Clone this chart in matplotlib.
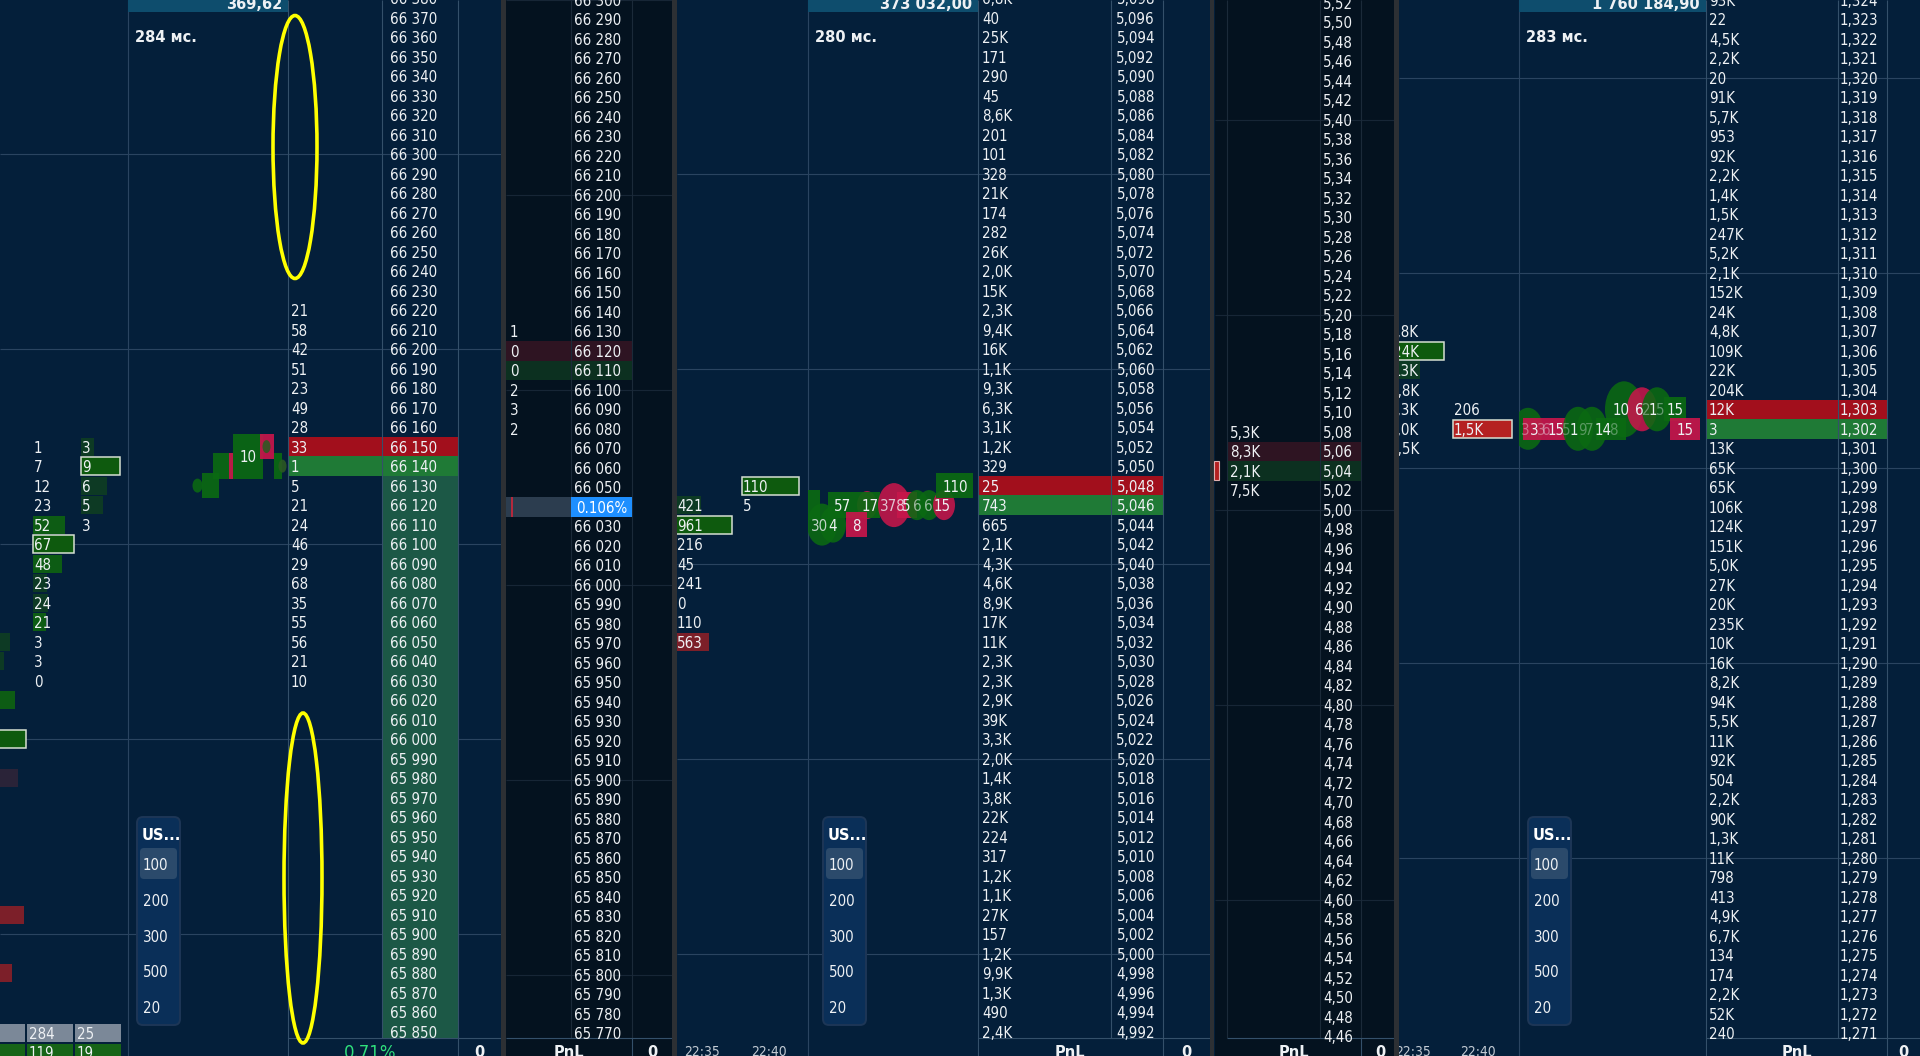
import os
import matplotlib
matplotlib.use("Agg")
import matplotlib.pyplot as plt
from matplotlib.patches import Rectangle, Ellipse, FancyBboxPatch
from matplotlib import font_manager
from matplotlib.font_manager import FontProperties

# ------------------------------------------------------------------ data
LADDER_ROWS = 54

# futures order book (left block)
book1_top, book1_tick = 66380, 10
book1_vol_prices = [66220, 66210, 66200, 66190, 66180, 66170, 66160, 66150, 66140,
                    66130, 66120, 66110, 66100, 66090, 66080, 66070, 66060, 66050,
                    66040, 66030]
book1_vol_values = [21, 58, 42, 51, 23, 49, 28, 33, 1, 5, 21, 24, 46, 29, 68, 35,
                    55, 56, 21, 10]
book1_ask, book1_bid = 66150, 66140
book1_change = "0.71%"
book1_header = "369,62"
book1_latency = "284 мс."

# cluster columns left of the first chart
fp1a_prices = [66150, 66140, 66130, 66120, 66110, 66100, 66090, 66080, 66070, 66060,
               66050, 66040, 66030]
fp1a_values = [1, 7, 12, 23, 52, 67, 48, 23, 24, 21, 3, 3, 0]
fp1a_style = ["", "", "", "", "g", "o", "g", "d", "d", "g", "", "", ""]
fp1b_prices = [66150, 66140, 66130, 66120, 66110]
fp1b_values = [3, 9, 6, 5, 3]
fp1b_style = ["d", "o", "d", "d", ""]
fp1c_prices = [66050, 66040, 66020, 66000, 65980, 65910, 65880]
fp1c_values = [24, 18, 29, 40, 32, 38, 26]
fp1c_style = ["d", "d", "g", "o", "p", "r", "r"]
fp1_total_row = ["", "284", "25"]
fp1_delta_row = ["", "119", "19"]

# trades on the first chart: offset from chart edge, price, size, side
tr1_x = [119.5, 94.5, 82.0, 69.5, 149.5, 138.5, 102.5, 138.5, 154.5]
tr1_price = [66145, 66140, 66130, 66130, 66140, 66150, 66140, 66150, 66140]
tr1_w = [30, 20, 17, 10, 8, 14, 4, 8, 8]
tr1_h = [45, 26, 25, 14, 26, 25, 26, 13, 13]
tr1_shape = ["s", "s", "s", "c", "s", "s", "s", "c", "c"]
tr1_side = ["b", "b", "b", "b", "b", "s", "s", "o", "o"]
tr1_lab_x, tr1_lab_price, tr1_lab = [120.5], [66145], ["10"]

# dark depth-of-market
dom2_top, dom2_tick = 66300, 10
dom2_prices = [66130, 66120, 66110, 66100, 66090, 66080]
dom2_values = [1, 0, 0, 2, 3, 2]
dom2_ask, dom2_bid = 66120, 66110
dom2_spread_price, dom2_spread = 66040, "0.106%"

# second instrument: order book (thousandths)
book4_top, book4_tick = 5098, 2
book4_volumes = ["6,8K", "40", "25K", "171", "290", "45", "8,6K", "201", "101", "328",
                 "21K", "174", "282", "26K", "2,0K", "15K", "2,3K", "9,4K", "16K", "1,1K",
                 "9,3K", "6,3K", "3,1K", "1,2K", "329", "25", "743", "665", "2,1K", "4,3K",
                 "4,6K", "8,9K", "17K", "11K", "2,3K", "2,3K", "2,9K", "39K", "3,3K", "2,0K",
                 "1,4K", "3,8K", "22K", "224", "317", "1,2K", "1,1K", "27K", "157", "1,2K",
                 "9,9K", "1,3K", "490", "2,4K"]
book4_ask, book4_bid = 5048, 5046
book4_header = "373 032,00"
book4_latency = "280 мс."

fp3a_prices = [5046, 5044, 5042, 5040, 5038, 5036, 5034, 5032]
fp3a_values = [421, 961, 216, 45, 241, 0, 110, 563]
fp3a_style = ["d", "o", "", "", "", "", "", "r"]
fp3b_prices = [5048, 5046]
fp3b_values = [110, 5]
fp3b_style = ["o", ""]

tr3_x = [6, 14, 25, 34.5, 59, 60.5, 48.5, 86, 99, 109, 121, 136, 146.5]
tr3_price = [5046, 5044, 5044, 5046, 5046, 5046, 5044, 5046, 5046, 5046, 5046, 5046, 5048]
tr3_w = [12, 30, 26, 29, 20, 23, 21, 32, 20, 22, 22, 22, 37]
tr3_h = [30, 42, 36, 26, 28, 26, 25, 44, 26, 30, 30, 30, 25]
tr3_shape = ["s", "c", "c", "s", "c", "s", "s", "c", "s", "c", "c", "c", "s"]
tr3_side = ["b", "b", "b", "b", "s", "b", "s", "s", "s", "b", "b", "s", "b"]
tr3_lab_x = [12, 25, 35, 62, 48.5, 85, 98, 109, 120, 134, 147]
tr3_lab_price = [5044, 5044, 5046, 5046, 5044, 5046, 5046, 5046, 5046, 5046, 5048]
tr3_lab = ["30", "4", "57", "17", "8", "378", "5", "6", "6", "15", "110"]
tr3_lab_alpha = [0.8, 1, 1, 1, 1, 0.8, 1, 0.6, 0.6, 1, 1]

# second instrument: dark DOM (hundredths)
dom5_top, dom5_tick = 552, 2
dom5_prices = [508, 506, 504, 502]
dom5_labels = ["5,3K", "8,3K", "2,1K", "7,5K"]
dom5_ask, dom5_bid = 506, 504

# third instrument: order book (thousandths)
book6_top, book6_tick = 1324, 1
book6_volumes = ["93K", "22", "4,5K", "2,2K", "20", "91K", "5,7K", "953", "92K", "2,2K",
                 "1,4K", "1,5K", "247K", "5,2K", "2,1K", "152K", "24K", "4,8K", "109K", "22K",
                 "204K", "12K", "3", "13K", "65K", "65K", "106K", "124K", "151K", "5,0K",
                 "27K", "20K", "235K", "10K", "16K", "8,2K", "94K", "5,5K", "11K", "92K",
                 "504", "2,2K", "90K", "1,3K", "11K", "798", "413", "4,9K", "6,7K", "134",
                 "174", "2,2K", "52K", "240"]
book6_ask, book6_bid = 1303, 1302
book6_header = "1 760 184,90"
book6_latency = "283 мс."

fp6a_prices = [1307, 1306, 1305, 1304, 1303, 1302, 1301]
fp6a_labels = ["1,8K", "24K", "13K", "2,8K", "1,3K", "5,0K", "2,5K"]
fp6a_values = [1.8, 24, 13, 2.8, 1.3, 5.0, 2.5]
fp6a_style = ["", "o", "d", "", "", "", ""]
fp6b_prices = [1303, 1302]
fp6b_labels = ["206", "1,5K"]
fp6b_values = [0.206, 1.5]
fp6b_style = ["", "R"]

tr6_x = [9, 25.5, 59, 73, 92, 105, 123, 138, 156, 166]
tr6_price = [1302, 1302, 1302, 1302, 1302, 1303, 1303, 1303, 1303, 1302]
tr6_w = [30, 43, 30, 30, 30, 38, 30, 30, 22, 30]
tr6_h = [42, 22, 44, 44, 22, 56, 44, 44, 24, 22]
tr6_shape = ["c", "s", "c", "c", "s", "c", "c", "c", "s", "s"]
tr6_side = ["b", "s", "b", "b", "b", "b", "s", "b", "b", "s"]
tr6_lab_x = [6, 15, 22, 27, 37, 47, 55, 63, 70, 84, 94, 102, 120, 127, 134, 141, 156, 166]
tr6_lab_price = [1302] * 11 + [1303, 1303, 1303, 1303, 1303, 1303, 1302]
tr6_lab = ["3", "3", "3", "6", "15", "5", "1", "9", "7", "14", "8",
           "10", "6", "2", "1", "5", "15", "15"]
tr6_lab_alpha = [0.4, 1, 0.4, 0.4, 1, 0.35, 1, 0.35, 0.35, 1, 0.35,
                 1, 1, 0.4, 1, 0.4, 1, 1]

volume_steps = ["100", "200", "300", "500", "20"]
time_ticks = ["22:35", "22:40"]

# ------------------------------------------------------------------ style
W, H = 1920, 1056
ROW_H = 19.5
BG = "#041f3a"
DOM_BG = "#04121f"
SEP = "#2d3034"
GRID = "#2a4460"
GRID_DARK = "#172636"
COL = "#34506a"
COL_DARK = "#1b2a39"
TXT = "#eef1f4"
ASK = "#a20f1c"
BID = "#1f7a36"
BUY = "#0b6a12"
SELL = "#c7164b"
HEADER = "#0e4d6d"
BOLD = "DejaVu Sans"


def _narrow_font():
    """Pick the narrowest sans face available for the ladder digits."""
    wanted = ["liberationsansnarrowregular", "liberationsansnarrow.ttf",
              "dejavusanscondensed.ttf", "robotocondensedregular",
              "notosanscondensed.ttf", "notosanscondensedregular",
              "opensanscondensedregular", "notosanssemicondensed.ttf",
              "notosanssemicondensedregular"]
    files = {}
    for f in font_manager.fontManager.ttflist:
        key = os.path.basename(f.fname).lower().replace("-", "").replace("_", "")
        files.setdefault(key, f.fname)
    for w in wanted:
        for key, path in files.items():
            if key.startswith(w.replace(".ttf", "")) and (key.endswith(".ttf") or key.endswith(".otf")):
                if w.endswith(".ttf") and key != w:
                    continue
                return FontProperties(fname=path)
    return FontProperties(family="Liberation Sans")


NARROW_FP = _narrow_font()

fig = plt.figure(figsize=(19.2, 10.56), dpi=100, facecolor=BG)
ax = fig.add_axes([0, 0, 1, 1])
ax.set_xlim(0, W)
ax.set_ylim(H, 0)
ax.axis("off")

# size the ladder font so that a price like "66 370" is ~47 px wide
_renderer = fig.canvas.get_renderer()
_probe = ax.text(0, 0, "66 370", fontproperties=NARROW_FP, fontsize=10)
_w10 = _probe.get_window_extent(_renderer).width
_probe.remove()
FS = max(10.0, min(12.0, 10 * 47.0 / _w10))


def ladder_y(top, tick, y0):
    return lambda p: y0 + (top - p) / tick * ROW_H


y1 = ladder_y(book1_top, book1_tick, -1.9)
y2 = ladder_y(dom2_top, dom2_tick, -0.2)
y4 = ladder_y(book4_top, book4_tick, -1.9)
y5 = ladder_y(dom5_top, dom5_tick, 2.8)
y6 = ladder_y(book6_top, book6_tick, -0.2)


def box(x0, y0, w, h, fc, ec="none", lw=0, z=2, alpha=1.0, clip=None):
    r = Rectangle((x0, y0), w, h, facecolor=fc, edgecolor=ec, linewidth=lw,
                  zorder=z, alpha=alpha)
    ax.add_patch(r)
    if clip is not None:
        r.set_clip_path(clip)
    return r


def row_box(x0, x1, y, fc, z=2):
    return box(x0, y - ROW_H / 2, x1 - x0, ROW_H, fc, z=z)


def put(x, y, s, size=None, ha="left", color=TXT, alpha=1.0, clip=None, z=8):
    t = ax.text(x, y, s, fontproperties=NARROW_FP, fontsize=size or FS, ha=ha,
                va="center_baseline", color=color, alpha=alpha, zorder=z)
    if clip is not None:
        t.set_clip_path(clip)
        t.set_clip_on(True)
    return t


def put_bold(x, y, s, size=10.5, ha="left", color=TXT, weight="bold", z=10):
    return ax.text(x, y, s, family=BOLD, fontsize=size, ha=ha, va="center_baseline",
                   color=color, fontweight=weight, zorder=z)


def vline(x, y0, y1_, color=COL, lw=0.8, z=3):
    ax.plot([x, x], [y0, y1_], color=color, lw=lw, zorder=z, solid_capstyle="butt")


def hline(y, x0, x1, color=GRID, lw=0.8, z=1):
    ax.plot([x0, x1], [y, y], color=color, lw=lw, zorder=z, solid_capstyle="butt")


def ladder_levels(top, tick):
    return [top - i * tick for i in range(LADDER_ROWS)]


fmt_space = lambda p: f"{p // 1000} {p % 1000:03d}"
fmt_milli = lambda p: f"{p // 1000},{p % 1000:03d}"
fmt_centi = lambda p: f"{p // 100},{p % 100:02d}"

# ------------------------------------------------------------------ panel backgrounds
box(0, 0, W, H, BG, z=0)
box(506, 0, 166, H, DOM_BG, z=0.5)
box(1215, 0, 179, H, DOM_BG, z=0.5)

# grid rows at round prices
for p in ladder_levels(book1_top, book1_tick):
    if p % 100 == 0:
        hline(y1(p), 0, 501)
for p in ladder_levels(dom2_top, dom2_tick):
    if p % 100 == 0:
        hline(y2(p), 506, 672, GRID_DARK)
for p in ladder_levels(book4_top, book4_tick):
    if p % 20 == 0:
        hline(y4(p), 677, 1210)
for p in ladder_levels(dom5_top, dom5_tick):
    if p % 20 == 0:
        hline(y5(p), 1215, 1394, GRID_DARK)
for p in ladder_levels(book6_top, book6_tick):
    if p % 10 == 0:
        hline(y6(p), 1399, 1920)

# ------------------------------------------------------------------ block 1: cluster + chart + book
vline(128, 0, H, GRID, 0.8)
STYLE_FC = {"g": "#0d5c14", "o": "#0e5a0e", "d": "#0d3a24", "p": "#2a2338",
            "r": "#7c1f29", "R": "#b52121"}


def cluster(prices, values, styles, yfun, x0, width, vmax, labels=None, clip=None,
            show_text=True, text_right=None):
    for i, (p, v, s) in enumerate(zip(prices, values, styles)):
        yc = yfun(p)
        if s:
            w = v / vmax * width
            edge = "#d6dfd2" if s in ("o", "R") else "none"
            box(x0, yc - 9, w, 18, STYLE_FC[s], ec=edge, lw=1.1 if edge != "none" else 0,
                z=4, clip=clip)
        if show_text:
            lab = labels[i] if labels else str(v)
            if text_right is None:
                put(x0 + 1, yc, lab, clip=clip)
            else:
                put(text_right, yc, lab, ha="right", clip=clip)


cluster(fp1a_prices, fp1a_values, fp1a_style, y1, 33, 41, max(fp1a_values))
cluster(fp1b_prices, fp1b_values, fp1b_style, y1, 81, 39, max(fp1b_values))
cluster(fp1c_prices, fp1c_values, fp1c_style, y1, -14, 40, max(fp1c_values),
        show_text=False)

# totals table under the clusters
for j, (xa, xb) in enumerate([(-10, 25), (27, 73), (75, 121)]):
    box(xa, 1024, xb - xa, 18, "#7b8898", z=5)
    box(xa, 1044, xb - xa, 14, "#176417", z=5)
    if fp1_total_row[j]:
        put(xa + 2, 1033, fp1_total_row[j], z=9)
        put(xa + 2, 1052, fp1_delta_row[j], z=9)


def trades(xs, prices, ws, hs, shapes, sides, yfun, x0, clip=None):
    colors = {"b": BUY, "s": SELL, "o": "#2c5a22"}
    for x, p, w, h, sh, sd in zip(xs, prices, ws, hs, shapes, sides):
        cx, cy = x0 + x, yfun(p)
        if sh == "s":
            art = box(cx - w / 2, cy - h / 2, w, h, colors[sd], z=5, alpha=0.92)
        else:
            art = Ellipse((cx, cy), w, h, facecolor=colors[sd], edgecolor="none",
                          alpha=0.88, zorder=5)
            ax.add_patch(art)
        if clip is not None:
            art.set_clip_path(clip)


chart1_clip = Rectangle((128, 12), 160, 1040, transform=ax.transData)
trades(tr1_x, tr1_price, tr1_w, tr1_h, tr1_shape, tr1_side, y1, 128, chart1_clip)
for x, p, s in zip(tr1_lab_x, tr1_lab_price, tr1_lab):
    put(128 + x, y1(p), s, ha="center")

# book 1
row_box(288, 458, y1(book1_ask), ASK)
row_box(288, 458, y1(book1_bid), BID)
box(382, y1(book1_bid - book1_tick) - ROW_H / 2, 76,
    1038 - (y1(book1_bid - book1_tick) - ROW_H / 2), "#1c5846", z=2)
for x in (288, 382, 458):
    vline(x, 0, H, COL)
for p in ladder_levels(book1_top, book1_tick):
    put(437, y1(p), fmt_space(p), ha="right")
for p, v in zip(book1_vol_prices, book1_vol_values):
    put(291, y1(p), str(v))
hline(1038, 288, 501, COL, 0.8, z=6)
box(288.5, 1038.5, 212, 18, BG, z=5.5)
vline(458, 1038, H, COL, z=6)
put_bold(370, 1051, book1_change, size=12, ha="center", color="#2fe07c", weight="normal")
put_bold(479, 1051, "0", ha="center")

# ------------------------------------------------------------------ block 2: dark DOM
for x in (571, 632):
    vline(x, 0, H, COL_DARK)
row_box(506, 632, y2(dom2_ask), "#2e1422")
row_box(506, 632, y2(dom2_bid), "#0c3020")
for p in ladder_levels(dom2_top, dom2_tick):
    if p == dom2_spread_price:
        continue
    put(621, y2(p), fmt_space(p), ha="right")
for p, v in zip(dom2_prices, dom2_values):
    put(510, y2(p), str(v))
ys = y2(dom2_spread_price)
row_box(506, 571, ys, "#2c3d4f", z=3)
row_box(571, 632, ys, "#1e8fff", z=3)
vline(512, ys - ROW_H / 2, ys + ROW_H / 2, "#d0253a", 1.2, z=4)
put(601.5, ys, dom2_spread, ha="center", color="white")
box(506, 1038, 166, 20, DOM_BG, z=5.5)
hline(1038, 506, 672, COL, 0.8, z=6)
vline(632, 1038, H, COL, z=6)
put_bold(569, 1051, "PnL", ha="center")
put_bold(652, 1051, "0", ha="center")

# ------------------------------------------------------------------ block 3: cluster + chart + book
vline(808, 0, H, GRID, 0.8)
cluster(fp3a_prices, fp3a_values, fp3a_style, y4, 676, 56, max(fp3a_values))
cluster(fp3b_prices, fp3b_values, fp3b_style, y4, 742, 57, max(fp3b_values))
chart3_clip = Rectangle((808, 12), 170, 1040, transform=ax.transData)
trades(tr3_x, tr3_price, tr3_w, tr3_h, tr3_shape, tr3_side, y4, 808, chart3_clip)
for x, p, s, a in zip(tr3_lab_x, tr3_lab_price, tr3_lab, tr3_lab_alpha):
    put(808 + x, y4(p), s, ha="center", alpha=a)
put(684, 1051, time_ticks[0], size=FS * 0.92, color="#c3cbd4")
put(751, 1051, time_ticks[1], size=FS * 0.92, color="#c3cbd4")

row_box(978, 1163, y4(book4_ask), ASK)
row_box(978, 1163, y4(book4_bid), BID)
for x in (978, 1111, 1163):
    vline(x, 0, H, COL)
for p, v in zip(ladder_levels(book4_top, book4_tick), book4_volumes):
    put(982, y4(p), v)
    put(1155, y4(p), fmt_milli(p), ha="right")
box(978.5, 1038, 231, 20, BG, z=5.5)
hline(1038, 978, 1210, COL, 0.8, z=6)
vline(1163, 1038, H, COL, z=6)
put_bold(1070, 1051, "PnL", ha="center")
put_bold(1186, 1051, "0", ha="center")

# ------------------------------------------------------------------ block 4: dark DOM
for x in (1227, 1320, 1361):
    vline(x, 0, H, COL_DARK)
row_box(1227, 1361, y5(dom5_ask), "#2e1422")
row_box(1227, 1361, y5(dom5_bid), "#0c3020")
for p in ladder_levels(dom5_top, dom5_tick):
    put(1353, y5(p), fmt_centi(p), ha="right")
for p, s in zip(dom5_prices, dom5_labels):
    put(1230, y5(p), s)
box(1214, y5(dom5_bid) - 9.5, 5, 19, "#b52121", ec="#e0b0b0", lw=0.8, z=13)
box(1215, 1038, 179, 20, DOM_BG, z=5.5)
hline(1038, 1227, 1394, COL, 0.8, z=6)
vline(1361, 1038, H, COL, z=6)
put_bold(1294, 1051, "PnL", ha="center")
put_bold(1380, 1051, "0", ha="center")

# ------------------------------------------------------------------ block 5: cluster + chart + book
vline(1519, 0, H, GRID, 0.8)
clus6_clip = Rectangle((1399, 0), 120, H, transform=ax.transData)
cluster(fp6a_prices, fp6a_values, fp6a_style, y6, 1392, 52, max(fp6a_values),
        labels=fp6a_labels, clip=clus6_clip, text_right=1419)
cluster(fp6b_prices, fp6b_values, fp6b_style, y6, 1453, 59, max(fp6b_values),
        labels=fp6b_labels, clip=clus6_clip)
chart6_clip = Rectangle((1519, 12), 187, 1040, transform=ax.transData)
trades(tr6_x, tr6_price, tr6_w, tr6_h, tr6_shape, tr6_side, y6, 1519, chart6_clip)
for x, p, s, a in zip(tr6_lab_x, tr6_lab_price, tr6_lab, tr6_lab_alpha):
    put(1519 + x, y6(p), s, ha="center", alpha=a)
put(1395, 1051, time_ticks[0], size=FS * 0.92, color="#c3cbd4")
put(1460, 1051, time_ticks[1], size=FS * 0.92, color="#c3cbd4")

row_box(1706, 1887, y6(book6_ask), ASK)
row_box(1706, 1887, y6(book6_bid), BID)
for x in (1706, 1838, 1887):
    vline(x, 0, H, COL)
for p, v in zip(ladder_levels(book6_top, book6_tick), book6_volumes):
    put(1709, y6(p), v)
    put(1878, y6(p), fmt_milli(p), ha="right")
box(1706.5, 1038, 214, 20, BG, z=5.5)
hline(1038, 1706, 1920, COL, 0.8, z=6)
vline(1887, 1038, H, COL, z=6)
put_bold(1797, 1051, "PnL", ha="center")
put_bold(1903, 1051, "0", ha="center")

# ------------------------------------------------------------------ chart headers and selectors
for (xa, xb), val, lat in [((128, 288), book1_header, book1_latency),
                           ((808, 978), book4_header, book4_latency),
                           ((1519, 1706), book6_header, book6_latency)]:
    box(xa, 0, xb - xa, 12, HEADER, z=9)
    put_bold(xb - 6, 3, val, size=10.5, ha="right")
    put_bold(xa + 7, 36, lat, size=10.5)

for xa in (137, 823, 1528):
    sel = FancyBboxPatch((xa, 817), 43, 208, boxstyle="round,pad=0,rounding_size=6",
                         facecolor="#0a2f58", edgecolor="#1d3656", linewidth=1.4, zorder=9)
    ax.add_patch(sel)
    hi = FancyBboxPatch((xa + 3, 848), 37, 31, boxstyle="round,pad=0,rounding_size=4",
                        facecolor="#2b4a6b", edgecolor="none", zorder=9.5)
    ax.add_patch(hi)
    put_bold(xa + 5, 834, "US...", size=10.5, color="white")
    for i, s in enumerate(volume_steps):
        put(xa + 6, 864 + i * 35.75, s, z=10)

# ------------------------------------------------------------------ separators between windows
for xa, xb in [(501, 506), (672, 677), (1210, 1214), (1394, 1399)]:
    box(xa, 0, xb - xa, H, SEP, z=12)

# ------------------------------------------------------------------ highlight rings
for cx, cy, w, h in [(295, 147, 44, 263), (303, 878, 38, 330)]:
    ax.add_patch(Ellipse((cx, cy), w, h, facecolor="none", edgecolor="#ffff00",
                         linewidth=2.6, zorder=20))

fig.savefig("out.png", dpi=100, facecolor=BG)
